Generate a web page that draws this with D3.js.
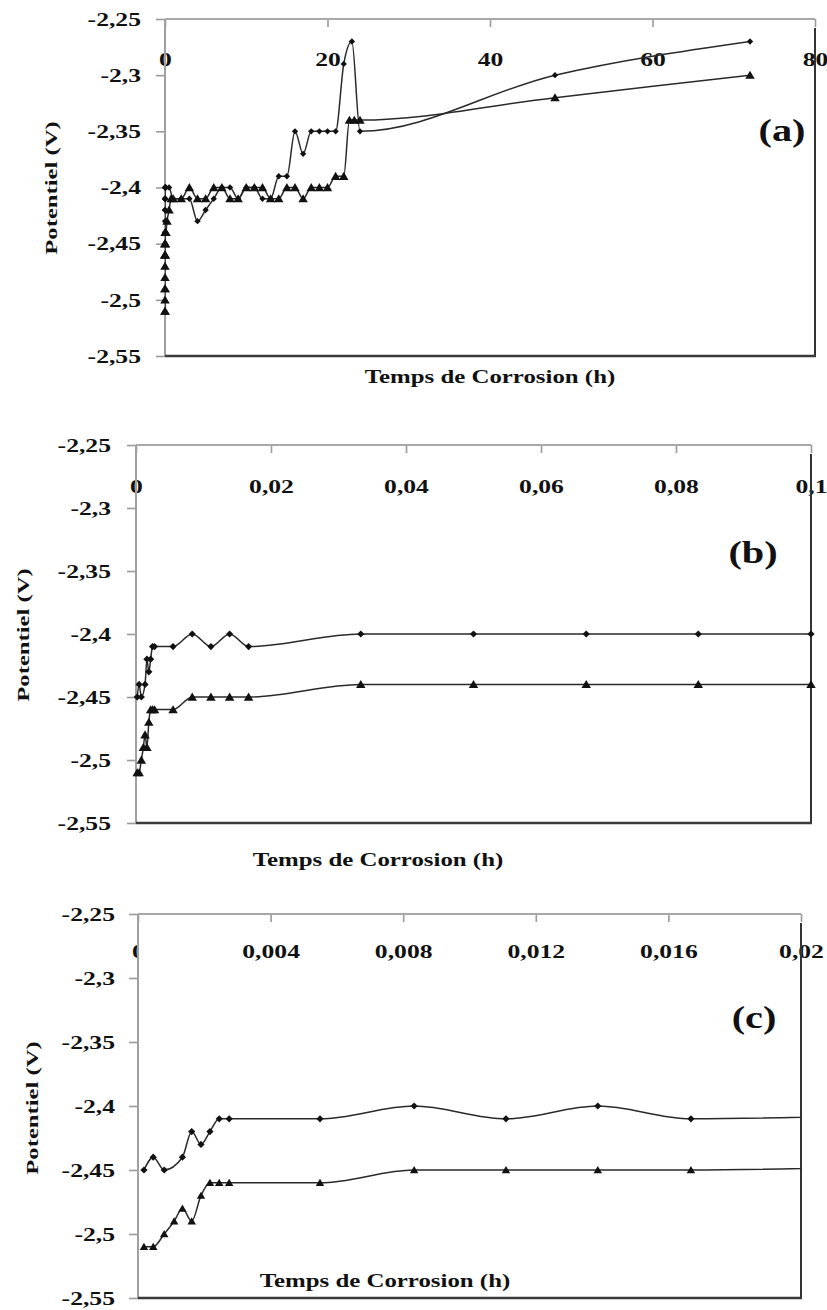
<!DOCTYPE html>
<html><head><meta charset="utf-8">
<script src="https://cdn.jsdelivr.net/npm/d3@7"></script>
<style>
body{margin:0;background:#fff}
svg{display:block}
text{font-family:"Liberation Serif","Times New Roman",serif;font-weight:bold;fill:#111}
</style>
</head><body>
<svg id="chart" width="827" height="1310"></svg>
<script>
// ---------- DATA ----------
// Early measurements (h) shared by panels (b) and (c)
const timeEarlyDiamond = [0.00018, 0.00046, 0.00079, 0.00134, 0.00162, 0.0019, 0.00217, 0.00245, 0.00275, 0.00549, 0.00833, 0.0111, 0.01387, 0.01668, 0.0333, 0.05, 0.0667, 0.0833, 0.1];
const potEarlyDiamond  = [-2.45, -2.44, -2.45, -2.44, -2.42, -2.43, -2.42, -2.41, -2.41, -2.41, -2.40, -2.41, -2.40, -2.41, -2.40, -2.40, -2.40, -2.40, -2.40];
const timeEarlyTriangle = [0.00018, 0.00046, 0.00079, 0.00109, 0.00134, 0.00162, 0.0019, 0.00217, 0.00245, 0.00275, 0.00549, 0.00833, 0.0111, 0.01387, 0.01668, 0.0333, 0.05, 0.0667, 0.0833, 0.1];
const potEarlyTriangle  = [-2.51, -2.51, -2.50, -2.49, -2.48, -2.49, -2.47, -2.46, -2.46, -2.46, -2.46, -2.45, -2.45, -2.45, -2.45, -2.44, -2.44, -2.44, -2.44, -2.44];

// Later measurements (h) for panel (a)
const timeLateDiamond = [0.5, 1, 2, 3, 4, 5, 6, 7, 8, 9, 10, 11, 12, 13, 14, 15, 16, 17, 18, 19, 20, 21, 22, 23, 24, 48, 72];
const potLateDiamond  = [-2.40, -2.41, -2.41, -2.41, -2.43, -2.42, -2.41, -2.40, -2.40, -2.41, -2.40, -2.40, -2.41, -2.41, -2.39, -2.39, -2.35, -2.37, -2.35, -2.35, -2.35, -2.35, -2.29, -2.27, -2.35, -2.30, -2.27];
const timeLateTriangle = [0.25, 0.5, 0.75, 1, 2, 3, 4, 5, 6, 7, 8, 9, 10, 11, 12, 13, 14, 15, 16, 17, 18, 19, 20, 21, 22, 22.7, 23.3, 24, 48, 72];
const potLateTriangle  = [-2.43, -2.42, -2.41, -2.41, -2.41, -2.40, -2.41, -2.41, -2.40, -2.40, -2.41, -2.41, -2.40, -2.40, -2.40, -2.41, -2.41, -2.40, -2.40, -2.41, -2.40, -2.40, -2.40, -2.39, -2.39, -2.34, -2.34, -2.34, -2.32, -2.30];

// Axis ticks
const yTicks = [-2.25, -2.3, -2.35, -2.4, -2.45, -2.5, -2.55];
const yTickLabels = ["-2,25", "-2,3", "-2,35", "-2,4", "-2,45", "-2,5", "-2,55"];
const xTicksA = [0, 20, 40, 60, 80];
const xTickLabelsA = ["0", "20", "40", "60", "80"];
const xTicksB = [0, 0.02, 0.04, 0.06, 0.08, 0.1];
const xTickLabelsB = ["0", "0,02", "0,04", "0,06", "0,08", "0,1"];
const xTicksC = [0, 0.004, 0.008, 0.012, 0.016, 0.02];
const xTickLabelsC = ["0", "0,004", "0,008", "0,012", "0,016", "0,02"];

const yTitle = "Potentiel (V)";
const xTitle = "Temps de Corrosion (h)";

// ---------- DRAWING ----------
const svg = d3.select("#chart");
const zip = (t, v) => t.map((d, i) => ({t: d, v: v[i]}));

// size = (full width)^2
const diamondSym = {draw(ctx, size){ const r = Math.sqrt(size) / 2; ctx.moveTo(0,-r); ctx.lineTo(r,0); ctx.lineTo(0,r); ctx.lineTo(-r,0); ctx.closePath(); }};
const triangleSym = {draw(ctx, size){ const w = Math.sqrt(size), hw = w / 2, h = w * 0.85; ctx.moveTo(0,-h*0.55); ctx.lineTo(hw,h*0.45); ctx.lineTo(-hw,h*0.45); ctx.closePath(); }};

function txt(g, x, y, s, size, sx, anchor, rot){
  g.append("text").text(s)
    .attr("font-size", size)
    .attr("text-anchor", anchor || "middle")
    .attr("dominant-baseline", "central")
    .attr("transform", `translate(${x},${y}) rotate(${rot||0}) scale(${sx},1)`);
}

let clipId = 0;
function panel(cfg){
  const g = svg.append("g");
  const x = d3.scaleLinear().domain(cfg.xDomain).range([cfg.left, cfg.right]);
  const y = d3.scaleLinear().domain([-2.25, -2.55]).range([cfg.top, cfg.bottom]);

  // top axis (ticks pointing into the plot, labels inside)
  const ax = g.append("g").attr("transform", `translate(0,${cfg.top})`)
    .call(d3.axisTop(x).tickValues(cfg.xTicks).tickSize(-8).tickFormat((d,i)=>cfg.xLabels[i]));
  ax.select(".domain").remove();
  ax.selectAll(".tick line").attr("stroke", "#9a9a9a").attr("stroke-width", 1.6);
  ax.selectAll(".tick text")
    .attr("y", null).attr("dy", null)
    .attr("font-size", 19).attr("font-family", null).attr("fill", "#111")
    .attr("dominant-baseline", "central")
    .attr("transform", `translate(0,${cfg.xLabelOffset}) scale(1.35,1)`);
  ax.attr("font-family", null).attr("font-size", null);

  // left axis
  const ay = g.append("g").attr("transform", `translate(${cfg.left},0)`)
    .call(d3.axisLeft(y).tickValues(yTicks).tickSize(9).tickFormat((d,i)=>yTickLabels[i]));
  ay.select(".domain").remove();
  ay.selectAll(".tick line").attr("stroke", "#9a9a9a").attr("stroke-width", 1.6);
  ay.selectAll(".tick text")
    .attr("x", null).attr("dy", null)
    .attr("font-size", 19).attr("font-family", null).attr("fill", "#111")
    .attr("text-anchor", "end").attr("dominant-baseline", "central")
    .attr("transform", `translate(${-cfg.yLabelGap},0) scale(1.35,1)`);
  ay.attr("font-family", null).attr("font-size", null);

  if (cfg.hideZero){
    g.append("rect").attr("x", cfg.left + 0.5).attr("y", cfg.top + cfg.xLabelOffset - 14)
      .attr("width", 12).attr("height", 28).attr("fill", "#fff");
  }

  // frame: gray left/top, dark right/bottom
  g.append("line").attr("x1", cfg.left).attr("x2", cfg.left).attr("y1", cfg.top).attr("y2", cfg.bottom)
    .attr("stroke", "#a0a0a0").attr("stroke-width", 2);
  g.append("line").attr("x1", cfg.left).attr("x2", cfg.right).attr("y1", cfg.top).attr("y2", cfg.top)
    .attr("stroke", "#a8a8a8").attr("stroke-width", 2);
  g.append("line").attr("x1", cfg.right).attr("x2", cfg.right).attr("y1", cfg.top + 9).attr("y2", cfg.bottom + 1)
    .attr("stroke", "#333").attr("stroke-width", 2);
  g.append("line").attr("x1", cfg.left).attr("x2", cfg.right + 1).attr("y1", cfg.bottom).attr("y2", cfg.bottom)
    .attr("stroke", "#3a3a3a").attr("stroke-width", 2.4);

  // clip
  const id = "clip" + (clipId++);
  g.append("clipPath").attr("id", id).append("rect")
    .attr("x", cfg.left).attr("y", cfg.top).attr("width", cfg.right - cfg.left).attr("height", cfg.bottom - cfg.top);

  const line = d3.line().x(d => x(d.t)).y(d => y(d.v)).curve(d3.curveMonotoneX);
  const series = [
    {data: cfg.diamond, sym: diamondSym, size: cfg.dSize},
    {data: cfg.triangle, sym: triangleSym, size: cfg.tSize}
  ];
  series.forEach(s => {
    g.append("path").attr("d", line(s.data)).attr("fill", "none")
      .attr("stroke", "#2a2a2a").attr("stroke-width", 1.5).attr("clip-path", `url(#${id})`);
  });
  series.forEach(s => {
    const pts = s.data.filter(d => d.t >= cfg.xDomain[0] && d.t <= cfg.xDomain[1] + 1e-9);
    g.selectAll(null).data(pts).join("path")
      .attr("transform", d => `translate(${x(d.t)},${y(d.v)})`)
      .attr("d", d3.symbol(s.sym, s.size)())
      .attr("fill", "#111");
  });

  // titles
  txt(g, cfg.xTitlePos[0], cfg.xTitlePos[1], xTitle, 18, 1.38);
  txt(g, cfg.yTitlePos[0], cfg.yTitlePos[1], yTitle, 17, 1.45, "middle", -90);
  txt(g, cfg.tagPos[0], cfg.tagPos[1], cfg.tag, 31, 1.3);
}

panel({
  xDomain: [0, 80], left: 165, right: 815, top: 19, bottom: 356,
  xTicks: xTicksA, xLabels: xTickLabelsA, xLabelOffset: 41, yLabelGap: 24,
  diamond: zip(timeEarlyDiamond.concat(timeLateDiamond), potEarlyDiamond.concat(potLateDiamond)),
  triangle: zip(timeEarlyTriangle.concat(timeLateTriangle), potEarlyTriangle.concat(potLateTriangle)),
  dSize: 40, tSize: 90,
  xTitlePos: [490, 377], yTitlePos: [51, 188], tagPos: [782, 131], tag: "(a)"
});
panel({
  xDomain: [0, 0.1], left: 136, right: 811, top: 445, bottom: 823,
  xTicks: xTicksB, xLabels: xTickLabelsB, xLabelOffset: 42, yLabelGap: 25,
  diamond: zip(timeEarlyDiamond, potEarlyDiamond),
  triangle: zip(timeEarlyTriangle, potEarlyTriangle),
  dSize: 52, tSize: 90,
  xTitlePos: [378, 860], yTitlePos: [23, 635], tagPos: [753, 553], tag: "(b)"
});
panel({
  xDomain: [0, 0.02], left: 138, right: 801, top: 914, bottom: 1298,
  xTicks: xTicksC, xLabels: xTickLabelsC, xLabelOffset: 38, yLabelGap: 23, hideZero: true,
  diamond: zip(timeEarlyDiamond, potEarlyDiamond),
  triangle: zip(timeEarlyTriangle, potEarlyTriangle),
  dSize: 52, tSize: 72,
  xTitlePos: [385, 1281], yTitlePos: [32, 1108], tagPos: [754, 1018], tag: "(c)"
});
</script>
</body></html>
